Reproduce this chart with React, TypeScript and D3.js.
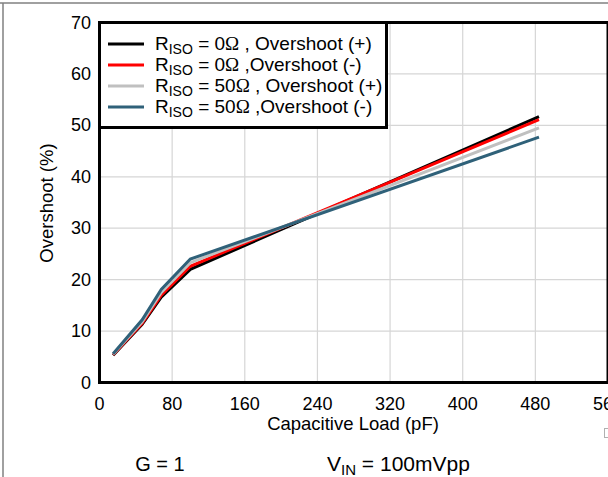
import React from "react";
import * as d3 from "d3";

const capLoad = [15, 47, 68, 100, 484];
const black0Pos = [5.3, 11.3, 16.6, 22.0, 51.7];
const red0Neg = [5.4, 11.5, 17.0, 22.6, 51.1];
const gray50Pos = [5.5, 11.8, 17.5, 23.3, 49.5];
const teal50Neg = [5.6, 12.2, 18.1, 24.0, 47.7];

const xTicks = [0, 80, 160, 240, 320, 400, 480, 560];
const yTicks = [0, 10, 20, 30, 40, 50, 60, 70];

const seriesNames = [
  { r: "0", sep: " , ", sign: "(+)" },
  { r: "0", sep: " ,", sign: "(-)" },
  { r: "50", sep: " , ", sign: "(+)" },
  { r: "50", sep: " ,", sign: "(-)" },
];
const seriesValues = [black0Pos, red0Neg, gray50Pos, teal50Neg];
const seriesColors = ["#000000", "#ff0000", "#c0c0c0", "#2f6179"];

const W = 608;
const H = 477;
const FONT = "'Liberation Sans', Arial, Helvetica, sans-serif";

export default function App() {
  const x = d3.scaleLinear().domain([0, 560]).range([99.5, 608]);
  const y = d3.scaleLinear().domain([0, 70]).range([382.5, 22.5]);
  const line = d3
    .line<[number, number]>()
    .x((d) => x(d[0]))
    .y((d) => y(d[1]));

  return (
    <svg
      width={W}
      height={H}
      style={{ position: "absolute", left: 0, top: 0, background: "#fff" }}
      fontFamily={FONT}
    >
      <rect x={0} y={0} width={W} height={H} fill="#fff" />
      {/* outer frame */}
      <line x1={0} x2={W} y1={3} y2={3} stroke="#808080" strokeWidth={1.5} />
      <line x1={3} x2={3} y1={3} y2={H} stroke="#808080" strokeWidth={1.5} />

      {/* grid */}
      {xTicks
        .filter((t) => t > 0 && t < 560)
        .map((t) => (
          <line key={"gx" + t} x1={x(t)} x2={x(t)} y1={y(70)} y2={y(0)} stroke="#d6d6d6" strokeWidth={1.2} />
        ))}
      {yTicks
        .filter((t) => t > 0 && t < 70)
        .map((t) => (
          <line key={"gy" + t} x1={x(0)} x2={x(560)} y1={y(t)} y2={y(t)} stroke="#d6d6d6" strokeWidth={1.2} />
        ))}

      {/* series */}
      {seriesValues.map((vals, i) => (
        <path
          key={"s" + i}
          d={line(capLoad.map((c, j) => [c, vals[j]] as [number, number])) || ""}
          fill="none"
          stroke={seriesColors[i]}
          strokeWidth={3}
          strokeLinejoin="miter"
        />
      ))}

      {/* plot frame */}
      <rect
        x={x(0)}
        y={y(70)}
        width={x(560) - x(0)}
        height={y(0) - y(70)}
        fill="none"
        stroke="#000"
        strokeWidth={3}
      />

      {/* legend */}
      <rect x={x(0)} y={y(70)} width={287} height={105} fill="#fff" stroke="#000" strokeWidth={3} />
      {seriesNames.map((s, i) => {
        const cy = 44 + i * 21;
        return (
          <g key={"lg" + i}>
            <line x1={108} x2={144} y1={cy} y2={cy} stroke={seriesColors[i]} strokeWidth={3} />
            <text x={155} y={cy + 6} fontSize={19} fill="#000">
              R
              <tspan fontSize={14} dy={4}>
                ISO
              </tspan>
              <tspan dy={-4}>{" = " + s.r}</tspan>
              <tspan fontFamily="'Liberation Serif', 'Times New Roman', serif">{"\u03A9"}</tspan>
              <tspan>{s.sep + "Overshoot " + s.sign}</tspan>
            </text>
          </g>
        );
      })}

      {/* axis tick labels */}
      {yTicks.map((t) => (
        <text key={"yl" + t} x={91} y={y(t) + 6} fontSize={18} textAnchor="end" fill="#000">
          {t}
        </text>
      ))}
      {xTicks.map((t) => (
        <text key={"xl" + t} x={x(t)} y={410} fontSize={18} textAnchor="middle" fill="#000">
          {t}
        </text>
      ))}

      {/* axis titles */}
      <text x={353} y={430} fontSize={18.5} textAnchor="middle" fill="#000">
        Capacitive Load (pF)
      </text>
      <text
        transform="translate(53,203) rotate(-90)"
        fontSize={18.5}
        textAnchor="middle"
        fill="#000"
      >
        Overshoot (%)
      </text>

      {/* conditions */}
      <text x={160} y={471} fontSize={20} textAnchor="middle" fill="#000">
        G = 1
      </text>
      <text x={327} y={471} fontSize={21} fill="#000">
        V
        <tspan fontSize={15} dy={4}>
          IN
        </tspan>
        <tspan dy={-4}> = 100mVpp</tspan>
      </text>

      {/* small cut-off glyph */}
      <rect x={604.5} y={428.5} width={6} height={9} fill="none" stroke="#b0b0b0" strokeWidth={1} />
    </svg>
  );
}
